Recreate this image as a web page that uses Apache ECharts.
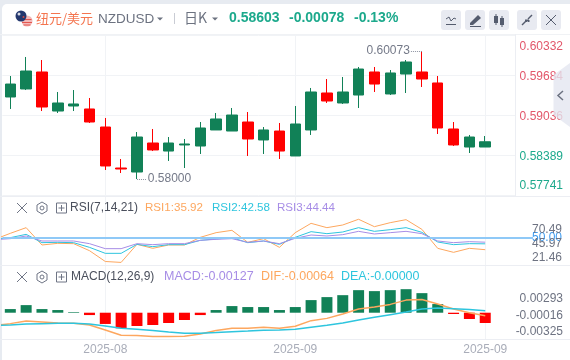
<!DOCTYPE html>
<html>
<head>
<meta charset="utf-8">
<style>
  html, body { margin: 0; width: 570px; height: 360px; overflow: hidden; background: #e7ebf1; }
  .card { position: absolute; left: 2px; top: 4px; width: 580px; height: 370px; background: #fff; border-radius: 5px; }
  #chart { position: absolute; left: 0; top: 0; width: 570px; height: 360px; }
</style>
</head>
<body>
<div class="card"></div>
<div id="chart"></div>
<script src="https://cdn.jsdelivr.net/npm/echarts@6/dist/echarts.min.js"></script>
<script>
// 蜡烛: [open, close, low, high]
const candles = [
  [0.59328, 0.59538, 0.59134, 0.59668], [0.59458, 0.59749, 0.59441, 0.59976], [0.59733, 0.59166, 0.59101, 0.59927],
  [0.59101, 0.59231, 0.59069, 0.59409], [0.59182, 0.59215, 0.59101, 0.59441], [0.59134, 0.58923, 0.58907, 0.59312],
  [0.58842, 0.58211, 0.58146, 0.58988], [0.58178, 0.58162, 0.58097, 0.58324], [0.58113, 0.58680, 0.58000, 0.58761],
  [0.58583, 0.58470, 0.58453, 0.58810], [0.58453, 0.58583, 0.58292, 0.58680], [0.58551, 0.58567, 0.58178, 0.58648],
  [0.58534, 0.58826, 0.58405, 0.58923], [0.58794, 0.58972, 0.58794, 0.59069], [0.58777, 0.59036, 0.58777, 0.59150],
  [0.58923, 0.58648, 0.58373, 0.59085], [0.58632, 0.58794, 0.58405, 0.58842], [0.58777, 0.58453, 0.58324, 0.58907],
  [0.58373, 0.58891, 0.58373, 0.59182], [0.58794, 0.59409, 0.58713, 0.59474], [0.59393, 0.59263, 0.59231, 0.59619],
  [0.59231, 0.59409, 0.59215, 0.59652], [0.59360, 0.59781, 0.59150, 0.59814], [0.59733, 0.59538, 0.59409, 0.59814],
  [0.59377, 0.59717, 0.59360, 0.59765], [0.59700, 0.59895, 0.59393, 0.59927], [0.59733, 0.59619, 0.59490, 0.60073],
  [0.59555, 0.58826, 0.58729, 0.59668], [0.58810, 0.58551, 0.58534, 0.58923], [0.58518, 0.58680, 0.58421, 0.58713],
  [0.58518, 0.58603, 0.58518, 0.58696]
]
const priceTicks = [0.57741, 0.58389, 0.59036, 0.59684, 0.60332]
const lastPrice = 0.58603

// 指标线第一个点在画面左边之外
const rsi1 = [47.6, 54.5, 60.95, 41.25, 43.14, 42.77, 34.81, 22.5, 21.46, 42.01, 37.46, 41.25, 41.25, 49.96, 55.27, 57.92, 44.28, 48.45, 38.6, 55.27, 65.87, 60.95, 63.98, 70.49, 62.08, 66.63, 70.04, 59.05, 37.46, 32.92, 37.46, 35.92]
const rsi2 = [47.7, 49.58, 53.37, 43.9, 44.28, 43.9, 38.6, 31.78, 31.78, 42.01, 39.36, 41.63, 41.63, 46.55, 48.07, 49.58, 43.9, 45.8, 42.01, 49.96, 56.4, 54.13, 56.02, 60.95, 56.78, 58.67, 60.95, 55.64, 44.66, 41.63, 42.77, 42.58]
const rsi3 = [47.3, 48.45, 51.48, 45.8, 45.8, 45.8, 42.77, 37.08, 37.08, 42.77, 41.63, 42.77, 42.77, 46.55, 47.69, 48.45, 44.28, 45.8, 42.77, 48.83, 52.61, 51.48, 52.99, 56.78, 53.75, 55.27, 56.78, 54.13, 45.8, 43.9, 45.04, 44.44]
const rsiTicks = [21.46, 45.97, 70.49]
const rsiMiddle = 50

const macdBars = [0.00045, 0.00094, 0.00045, 0.00033, 0.00008, -0.00029, -0.00139, -0.00193, -0.00164, -0.00152, -0.00127, -0.0009, -0.00029, 0.00033, 0.00082, 0.0007, 0.0007, 0.00033, 0.0007, 0.00156, 0.00193, 0.00217, 0.00279, 0.00267, 0.00279, 0.00291, 0.00242, 0.00107, -0.00016, -0.00078, -0.00127]
const dif = [-0.0016, -0.00135, -0.00103, -0.00115, -0.00127, -0.00131, -0.00152, -0.00213, -0.00279, -0.00283, -0.00295, -0.00295, -0.00291, -0.00262, -0.00221, -0.00193, -0.00193, -0.0018, -0.00193, -0.00168, -0.00098, -0.0007, -0.00016, 0.00045, 0.0007, 0.00103, 0.00156, 0.00164, 0.00107, 0.00045, 0, -0.00037]
const dea = [-0.00156, -0.00152, -0.00139, -0.00135, -0.00131, -0.00131, -0.00139, -0.00164, -0.00193, -0.00205, -0.00221, -0.00238, -0.00254, -0.00254, -0.00246, -0.00234, -0.00226, -0.00217, -0.00213, -0.00205, -0.0018, -0.00156, -0.00127, -0.0009, -0.00057, -0.00025, 0.00008, 0.00045, 0.00057, 0.00049, 0.00041, 0.00025]
const macdTicks = [-0.00325, -0.00016, 0.00293]

const monthIndex = [6, 18, 30]
const monthLabels = ['2025-08', '2025-09', '2025-09']

const GREEN = '#118157'
const RED = '#ff0000'
const TEAL = '#1ca98c'
const PINK = '#e2566a'
const ORANGE = '#fda75f'
const CYAN = '#2ec5de'
const PURPLE = '#a78de6'
const GRID = '#f1f3f6'
const FONT = '"Liberation Sans", "Noto Sans CJK SC", sans-serif'
const CJK = '"Noto Sans CJK SC", sans-serif'

const myChart = echarts.init(document.getElementById('chart'))

const withIndex = (arr) => arr.map((v, i) => [i - 1, v])

const xAxis = (gridIndex, max, showLabel) => ({
  type: 'value',
  gridIndex,
  min: -0.5,
  max,
  axisLine: { show: false },
  axisTick: { show: false, customValues: monthIndex },
  splitLine: { show: true, lineStyle: { color: GRID } },
  axisLabel: {
    show: showLabel,
    customValues: monthIndex,
    color: '#a9adb9',
    fontSize: 12,
    fontFamily: FONT,
    margin: 5,
    formatter: (v) => monthLabels[monthIndex.indexOf(v)]
  }
})

const line = (name, data, xi, yi, color, width) => ({
  type: 'line',
  name,
  data: withIndex(data),
  xAxisIndex: xi,
  yAxisIndex: yi,
  symbol: 'none',
  silent: true,
  lineStyle: { color, width }
})

// 表头和图标
const txt = (x, y, text, fill, font, align) => ({
  type: 'text',
  z: 20,
  style: { x, y, text, fill, font, align: align || 'left', verticalAlign: 'middle' }
})
const seg = (x1, y1, x2, y2, stroke, lineWidth, z) => ({
  type: 'line',
  z: z || 20,
  shape: { x1, y1, x2, y2 },
  style: { stroke, lineWidth: lineWidth || 1 }
})
const caret = (x, y) => ({
  type: 'polygon',
  z: 20,
  shape: { points: [[x - 3, y - 1.5], [x + 3, y - 1.5], [x, y + 1.5]] },
  style: { fill: '#6c7280' }
})
const button = (x) => ({
  type: 'rect',
  z: 19,
  shape: { x, y: 10, width: 20, height: 20, r: 3 },
  style: { fill: '#e8eaf1' }
})
const panelIcons = (y) => {
  const c = '#6f7585'
  return [
    seg(17, y - 5, 27, y + 5, c), seg(27, y - 5, 17, y + 5, c),
    {
      type: 'polygon', z: 20,
      shape: { points: [[42, y - 6], [47, y - 3], [47, y + 3], [42, y + 6], [37, y + 3], [37, y - 3]] },
      style: { fill: 'none', stroke: c, lineWidth: 1 }
    },
    { type: 'circle', z: 20, shape: { cx: 42, cy: y, r: 2 }, style: { fill: 'none', stroke: c, lineWidth: 1 } },
    { type: 'rect', z: 20, shape: { x: 56.5, y: y - 5, width: 10, height: 10 }, style: { fill: 'none', stroke: c, lineWidth: 1 } },
    seg(58.5, y, 64.5, y, c), seg(61.5, y - 3, 61.5, y + 3, c)
  ]
}

const graphics = [
  // 分隔线
  seg(0, 34.5, 570, 34.5, '#f0f2f5', 1, 1),
  seg(515.5, 34, 515.5, 196, '#eceef3', 1, 1),
  seg(0, 196.5, 570, 196.5, '#eceef3', 1, 1),
  seg(0, 265.5, 570, 265.5, '#eceef3', 1, 1),
  seg(0, 339.5, 570, 339.5, '#eceef3', 1, 1),

  // 国旗
  { type: 'circle', z: 20, shape: { cx: 27, cy: 21, r: 5.5 }, style: { fill: '#f3b9b9' } },
  seg(22.5, 19.5, 31.5, 19.5, '#e4574f'), seg(22, 22.5, 32, 22.5, '#e4574f'), seg(23.5, 25, 30.5, 25, '#e4574f'),
  { type: 'circle', z: 21, shape: { cx: 21, cy: 16, r: 5.5 }, style: { fill: '#24386e' } },
  { type: 'circle', z: 22, shape: { cx: 19, cy: 14, r: 1.5 }, style: { fill: '#d9dbe6' } },
  { type: 'circle', z: 22, shape: { cx: 23.5, cy: 17, r: 1 }, style: { fill: '#d5473f' } },

  txt(36, 18, '纽元/美元', '#f4754f', '13px ' + CJK),
  txt(98, 19, 'NZDUSD', '#6c7280', '13.5px ' + FONT),
  caret(160, 19),
  seg(174.5, 13, 174.5, 24, '#c9ccd4'),
  txt(184, 18, '日K', '#6c7280', '14px ' + CJK),
  caret(215, 19),
  txt(229, 18, '0.58603', TEAL, 'bold 14px ' + FONT),
  txt(289, 18, '-0.00078', TEAL, 'bold 14px ' + FONT),
  txt(354, 18, '-0.13%', TEAL, 'bold 14px ' + FONT),

  // 右上角按钮
  button(441), button(465), button(489), button(517), button(541),
  { type: 'polyline', z: 20, shape: { points: [[446, 19], [449, 17], [451, 21], [454, 18], [456, 19]] }, style: { fill: 'none', stroke: '#555c6e', lineWidth: 1 } },
  seg(446, 24.5, 456, 24.5, '#555c6e'),
  { type: 'polygon', z: 20, shape: { points: [[470, 23], [478, 15], [481, 18], [473, 25], [470, 25]] }, style: { fill: '#555c6e' } },
  seg(470, 26.5, 481, 26.5, '#555c6e'),
  { type: 'rect', z: 20, shape: { x: 494, y: 16, width: 4, height: 7 }, style: { fill: '#555c6e' } },
  seg(496, 14, 496, 25, '#555c6e'),
  { type: 'rect', z: 20, shape: { x: 500, y: 18, width: 4, height: 7 }, style: { fill: '#555c6e' } },
  seg(502, 16, 502, 27, '#555c6e'),
  seg(522, 25, 526, 21, '#555c6e', 1.5), seg(528, 19, 532, 15, '#555c6e', 1.5),
  { type: 'polygon', z: 20, shape: { points: [[525, 20], [527, 22], [527, 20]] }, style: { fill: '#555c6e', stroke: '#555c6e' } },
  { type: 'polygon', z: 20, shape: { points: [[529, 22], [529, 20], [527, 20]] }, style: { fill: '#555c6e', stroke: '#555c6e' } },
  seg(546, 15, 556, 25, '#555c6e'), seg(556, 15, 546, 25, '#555c6e'),

  // 右侧收起按钮
  {
    type: 'polygon', z: 30,
    shape: { points: [[553.5, 75], [570, 63], [570, 127], [553.5, 115]] },
    style: { fill: 'rgba(228,230,240,0.8)' }
  },
  { type: 'polyline', z: 31, shape: { points: [[563, 91], [558, 95.5], [563, 100]] }, style: { fill: 'none', stroke: '#6c7280', lineWidth: 1.5 } },

  // RSI 标题
  ...panelIcons(208),
  txt(70, 208, 'RSI(7,14,21)', '#4a4f5c', '12px ' + FONT),
  txt(145, 208, 'RSI1:35.92', ORANGE, '11.6px ' + FONT),
  txt(212, 208, 'RSI2:42.58', CYAN, '11.6px ' + FONT),
  txt(277, 208, 'RSI3:44.44', PURPLE, '11.6px ' + FONT),

  // MACD 标题
  ...panelIcons(277),
  txt(71, 277, 'MACD(12,26,9)', '#4a4f5c', '12px ' + FONT),
  txt(164, 277, 'MACD:-0.00127', PURPLE, '12.5px ' + FONT),
  txt(261, 277, 'DIF:-0.00064', ORANGE, '12.5px ' + FONT),
  txt(341, 277, 'DEA:-0.00000', CYAN, '12.5px ' + FONT)
]

const yLabel = (margin, color) => ({
  color,
  fontSize: 12,
  fontFamily: FONT,
  align: 'right',
  margin
})

// 价格刻度文字相对刻度线的上下偏移
const priceRich = {
  topUp: { color: PINK, fontSize: 12, fontFamily: FONT, padding: [6, 0, 0, 0] },
  midUp: { color: PINK, fontSize: 12, fontFamily: FONT, padding: [3, 0, 0, 0] },
  midDown: { color: TEAL, fontSize: 12, fontFamily: FONT, padding: [3, 0, 0, 0] },
  lowDown: { color: TEAL, fontSize: 12, fontFamily: FONT, padding: [0, 0, 3, 0] }
}
const priceLabel = (v) => {
  const i = priceTicks.indexOf(v)
  const key = i === 4 ? 'topUp' : i === 0 ? 'lowDown' : v > lastPrice ? 'midUp' : 'midDown'
  return '{' + key + '|' + v.toFixed(5) + '}'
}

const options = {
  animation: false,
  grid: [
    { left: 2.4, width: 512.6, top: 35, height: 160, outerBoundsMode: 'none' },
    { left: 2.4, width: 530.6, top: 196, height: 69, outerBoundsMode: 'none' },
    { left: 2.4, width: 512.6, top: 265, height: 74, outerBoundsMode: 'none' }
  ],
  xAxis: [xAxis(0, 31.88, false), xAxis(1, 33.02, false), xAxis(2, 31.88, true)],
  yAxis: [
    {
      type: 'value',
      gridIndex: 0,
      position: 'right',
      min: priceTicks[0],
      max: priceTicks[4],
      axisLine: { show: false },
      axisTick: { show: false, customValues: priceTicks },
      splitLine: { show: true, lineStyle: { color: GRID } },
      axisLabel: {
        ...yLabel(48, TEAL),
        customValues: priceTicks,
        verticalAlignMaxLabel: 'top',
        verticalAlignMinLabel: 'bottom',
        rich: priceRich,
        formatter: priceLabel
      }
    },
    {
      // RSI 数据轴，只显示 50.00
      type: 'value',
      gridIndex: 1,
      position: 'right',
      min: 18.52,
      max: 96.93,
      axisLine: { show: false },
      axisTick: { show: false, customValues: [rsiMiddle] },
      splitLine: { show: false },
      axisLabel: { ...yLabel(29, '#3d9bf0'), customValues: [rsiMiddle], formatter: (v) => v.toFixed(2) }
    },
    {
      // RSI 刻度文字
      type: 'value',
      gridIndex: 1,
      position: 'right',
      min: 8.33,
      max: 129.15,
      axisLine: { show: false },
      axisTick: { show: false, customValues: rsiTicks },
      splitLine: { show: false },
      axisLabel: { ...yLabel(29, '#6e7382'), customValues: rsiTicks, formatter: (v) => v.toFixed(2) }
    },
    {
      // MACD 数据轴
      type: 'value',
      gridIndex: 2,
      position: 'right',
      min: -0.00325,
      max: 0.0059,
      axisLine: { show: false },
      axisTick: { show: false },
      splitLine: { show: false },
      axisLabel: { show: false }
    },
    {
      // MACD 刻度文字
      type: 'value',
      gridIndex: 2,
      position: 'right',
      min: -0.00465,
      max: 0.00938,
      axisLine: { show: false },
      axisTick: { show: false, customValues: macdTicks },
      splitLine: { show: false },
      axisLabel: { ...yLabel(48, '#6e7382'), customValues: macdTicks, formatter: (v) => v.toFixed(5) }
    }
  ],
  series: [
    {
      type: 'candlestick',
      xAxisIndex: 0,
      yAxisIndex: 0,
      barWidth: 11,
      silent: true,
      encode: { x: 0, y: [1, 2, 3, 4] },
      data: candles.map((c, i) => [i, ...c]),
      itemStyle: { color: GREEN, borderColor: GREEN, color0: RED, borderColor0: RED, borderWidth: 1 },
      markLine: {
        silent: true,
        symbol: 'none',
        lineStyle: { color: '#8d92a0', type: 'dotted', width: 1 },
        label: { position: 'end', distance: 1, color: '#747988', fontSize: 12, fontFamily: FONT, formatter: '{b}' },
        data: [
          [{ name: '0.58000', coord: [8, 0.58] }, { coord: [8.62, 0.58] }],
          [{ name: '0.60073', coord: [26, 0.60073] }, { coord: [25.3, 0.60073] }]
        ]
      }
    },
    line('RSI1', rsi1, 1, 1, ORANGE, 1),
    line('RSI2', rsi2, 1, 1, CYAN, 1),
    {
      ...line('RSI3', rsi3, 1, 1, PURPLE, 1),
      markLine: {
        silent: true,
        symbol: 'none',
        label: { show: false },
        lineStyle: { color: '#8fc9f7', type: 'solid', width: 2 },
        data: [{ yAxis: rsiMiddle }]
      }
    },
    {
      type: 'bar',
      xAxisIndex: 2,
      yAxisIndex: 3,
      barWidth: 11,
      silent: true,
      data: macdBars.map((v, i) => ({
        value: [i, v],
        itemStyle: { color: v > 0 ? GREEN : RED }
      }))
    },
    line('DIF', dif, 2, 3, ORANGE, 1.5),
    line('DEA', dea, 2, 3, CYAN, 1.5)
  ],
  graphic: graphics
}
myChart.setOption(options)
</script>
</body>
</html>
